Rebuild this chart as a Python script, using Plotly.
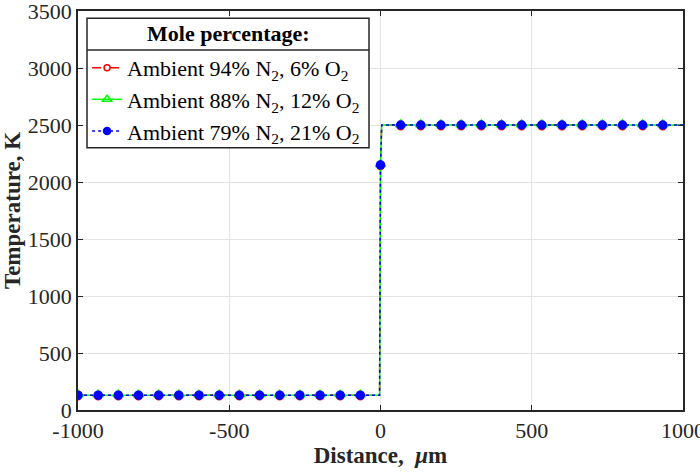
import plotly.graph_objects as go

# Temperature profile across the flame front (fine resolution near x = 0)
x_profile = [-1000, -3, 0, 4, 1000]
T_profile_6 = [130, 130, 2150, 2500, 2500]
T_profile_12 = [130, 130, 2150, 2500, 2500]
T_profile_21 = [130, 130, 2150, 2500, 2500]

# Sampled points shown with markers
x_samples = [-1000, -933.3, -866.7, -800, -733.3, -666.7, -600, -533.3, -466.7, -400,
             -333.3, -266.7, -200, -133.3, -66.7, 0, 66.7, 133.3, 200, 266.7,
             333.3, 400, 466.7, 533.3, 600, 666.7, 733.3, 800, 866.7, 933.3]
T_samples_6 = [120] * 15 + [2140] + [2490] * 14
T_samples_12 = [135] * 15 + [2155] + [2505] * 14
T_samples_21 = [130] * 15 + [2150] + [2500] * 14

x_ticks = [-1000, -500, 0, 500, 1000]
x_ticktext = ["-1000", "-500", "0", "500", "1000"]
y_ticks = [0, 500, 1000, 1500, 2000, 2500, 3000, 3500]

series = [
    dict(name="Ambient 94% N<sub>2</sub>, 6% O<sub>2</sub>", T_line=T_profile_6, T_pts=T_samples_6,
         color="#ff0000", dash="dash", symbol="circle-open", msize=7),
    dict(name="Ambient 88% N<sub>2</sub>, 12% O<sub>2</sub>", T_line=T_profile_12, T_pts=T_samples_12,
         color="#00ff00", dash="solid", symbol="triangle-up-open", msize=9),
    dict(name="Ambient 79% N<sub>2</sub>, 21% O<sub>2</sub>", T_line=T_profile_21, T_pts=T_samples_21,
         color="#0000ff", dash="dot", symbol="circle", msize=8),
]

fig = go.Figure()
for s in series:
    fig.add_trace(go.Scatter(x=x_profile, y=s["T_line"], mode="lines", showlegend=False,
                             line=dict(color=s["color"], dash=s["dash"], width=1.5),
                             hoverinfo="skip"))
    fig.add_trace(go.Scatter(x=x_samples, y=s["T_pts"], mode="markers", showlegend=False,
                             marker=dict(symbol=s["symbol"], color=s["color"], size=s["msize"],
                                         line=dict(color=s["color"], width=1.5))))
    # legend entry combining line style and marker
    fig.add_trace(go.Scatter(x=[None], y=[None], mode="lines+markers", name=s["name"],
                             line=dict(color=s["color"], dash=s["dash"], width=1.5),
                             marker=dict(symbol=s["symbol"], color=s["color"], size=s["msize"] - 1,
                                         line=dict(color=s["color"], width=1.5))))

axis_common = dict(
    showline=True, linecolor="#262626", linewidth=1.5, mirror="ticks",
    ticks="inside", ticklen=5, tickcolor="#262626",
    showgrid=True, gridcolor="#e3e3e3", gridwidth=1, zeroline=False,
    tickfont=dict(family="Liberation Serif", size=22, color="#262626"),
    ticklabeloverflow="allow", automargin=False,
)

fig.update_xaxes(range=[-1000, 1000], tickvals=x_ticks, ticktext=x_ticktext,
                 title=dict(text="<b>Distance,  <i>μ</i>m</b>", standoff=4,
                            font=dict(family="Liberation Serif", size=23, color="#262626")),
                 **axis_common)
fig.update_yaxes(range=[0, 3500], tickvals=y_ticks,
                 title=dict(text="<b>Temperature, K</b>", standoff=4,
                            font=dict(family="Liberation Serif", size=23, color="#262626")),
                 **axis_common)

# Legend frame: white box with a titled header cell
legend_box = dict(x0=0.0149, x1=0.481, y0=0.657, y1=0.982)
fig.add_shape(type="rect", xref="paper", yref="paper", layer="above",
              fillcolor="white", line=dict(color="#262626", width=1.5), **legend_box)
fig.add_shape(type="line", xref="paper", yref="paper", layer="above",
              x0=legend_box["x0"], x1=legend_box["x1"], y0=0.902, y1=0.902,
              line=dict(color="#262626", width=1.5))
fig.add_annotation(xref="paper", yref="paper", x=(legend_box["x0"] + legend_box["x1"]) / 2,
                   y=0.943, xanchor="center", yanchor="middle", showarrow=False,
                   text="<b>Mole percentage:</b>",
                   font=dict(family="Liberation Serif", size=22, color="#000000"))

fig.update_layout(
    width=700, height=473,
    margin=dict(l=78, r=17, t=11, b=63),
    paper_bgcolor="white", plot_bgcolor="white",
    font=dict(family="Liberation Serif", color="#262626"),
    legend=dict(
        x=0.015, y=0.91, xanchor="left", yanchor="top",
        bgcolor="rgba(0,0,0,0)", borderwidth=0,
        font=dict(family="Liberation Serif", size=22, color="#000000"),
        itemwidth=30, tracegroupgap=0,
    ),
)

fig.write_html("out.html")
